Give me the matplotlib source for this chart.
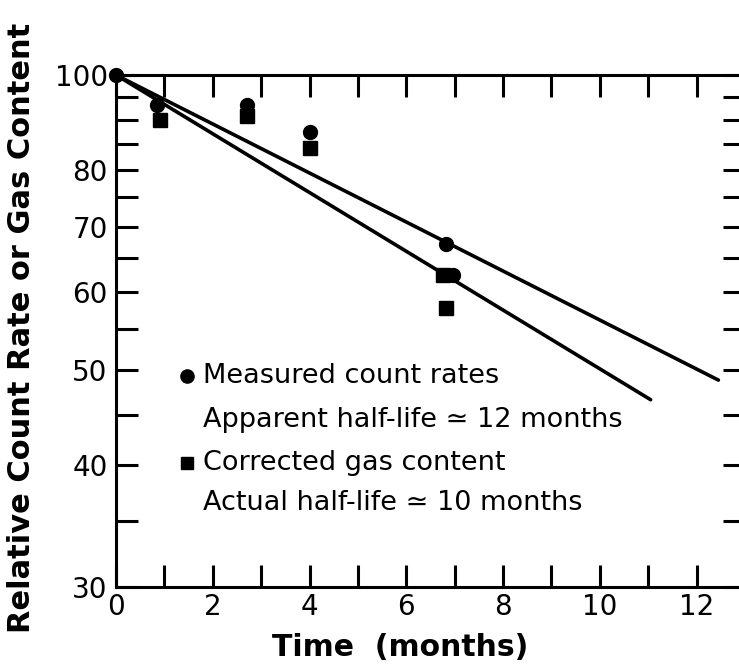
import matplotlib.pyplot as plt
from matplotlib.ticker import FixedLocator, FixedFormatter, NullFormatter

# measured count rates (circles)
meas_t = [0.0, 0.85, 2.7, 4.0, 6.83, 6.97]
meas_v = [100, 93.2, 93.2, 87.5, 67.2, 62.5]

# corrected gas content (squares)
corr_t = [0.9, 2.7, 4.0, 6.75, 6.83]
corr_v = [89.9, 90.8, 84.2, 62.5, 57.8]

# fitted decay lines (end points)
fit12_t = [0.0, 12.45]
fit12_v = [100, 48.8]
fit10_t = [0.0, 11.05]
fit10_v = [100, 46.6]

x_major = [0, 2, 4, 6, 8, 10, 12]
x_labels = ["0", "2", "4", "6", "8", "10", "12"]
x_minor = [1, 3, 5, 7, 9, 11]
y_major = [30, 40, 50, 60, 70, 80, 100]
y_labels = ["30", "40", "50", "60", "70", "80", "100"]
y_minor = [35, 45, 55, 65, 75, 85, 90, 95]

plt.rcParams["font.family"] = ["DejaVu Sans"]

fig = plt.figure(figsize=(7.39, 6.66), dpi=100)
ax = fig.add_axes([116 / 739, 1 - 587 / 666, 629 / 739, 512 / 666])

ax.plot(fit12_t, fit12_v, color="black", lw=2.6, solid_capstyle="round")
ax.plot(fit10_t, fit10_v, color="black", lw=2.6, solid_capstyle="round")
ax.plot(meas_t, meas_v, "o", color="black", ms=10, clip_on=False)
ax.plot(corr_t, corr_v, "s", color="black", ms=9.5, clip_on=False)

ax.set_yscale("log")
ax.set_xlim(0, 13)
ax.set_ylim(30, 100)

ax.xaxis.set_major_locator(FixedLocator(x_major))
ax.xaxis.set_major_formatter(FixedFormatter(x_labels))
ax.xaxis.set_minor_locator(FixedLocator(x_minor))
ax.yaxis.set_major_locator(FixedLocator(y_major))
ax.yaxis.set_major_formatter(FixedFormatter(y_labels))
ax.yaxis.set_minor_locator(FixedLocator(y_minor))
ax.yaxis.set_minor_formatter(NullFormatter())

for which in ("major", "minor"):
    ax.tick_params(which=which, direction="in", length=16, width=2.2,
                   top=True, right=True, labelsize=20, pad=4)
ax.tick_params(axis="y", pad=6)

for side in ("left", "bottom", "top", "right"):
    ax.spines[side].set_linewidth(2.2)

# legend written as text
ax.plot([0.113], [0.412], "o", color="black", ms=9.5, transform=ax.transAxes)
ax.plot([0.113], [0.242], "s", color="black", ms=8.5, transform=ax.transAxes)
ax.text(0.138, 0.412, "Measured count rates", transform=ax.transAxes,
        fontsize=19.5, va="center")
ax.text(0.138, 0.326, "Apparent half-life \u2243 12 months", transform=ax.transAxes,
        fontsize=19.5, va="center")
ax.text(0.138, 0.242, "Corrected gas content", transform=ax.transAxes,
        fontsize=19.5, va="center")
ax.text(0.138, 0.164, "Actual half-life \u2243 10 months", transform=ax.transAxes,
        fontsize=19.5, va="center")

fig.text(400 / 739, 1 - 647 / 666, "Time  (months)", fontsize=21.5,
         fontweight="bold", ha="center", va="center")
fig.text(22 / 739, 1 - 328 / 666, "Relative Count Rate or Gas Content",
         fontsize=22, fontweight="bold", rotation=90, ha="center", va="center")

fig.savefig("out.png", dpi=100)
